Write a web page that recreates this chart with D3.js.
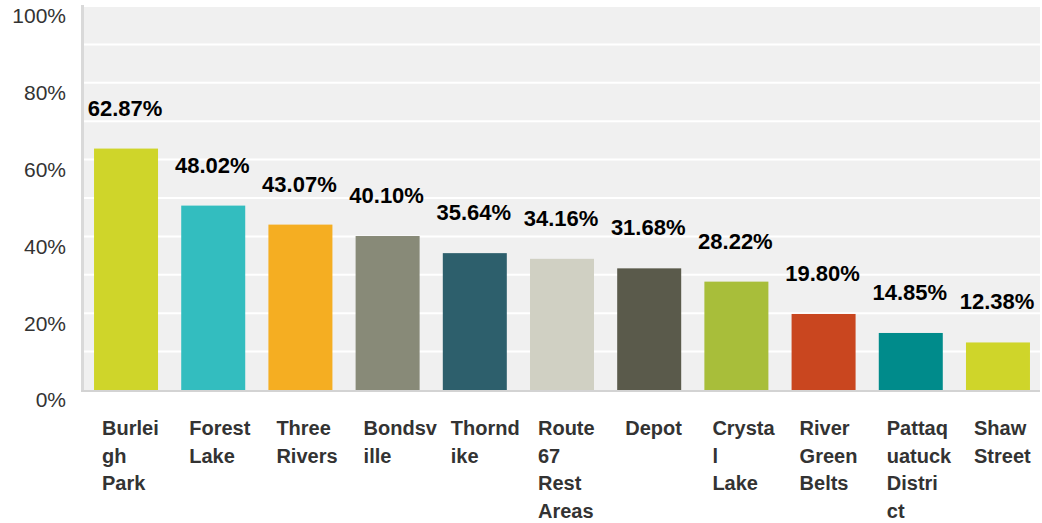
<!DOCTYPE html>
<html><head><meta charset="utf-8">
<script src="https://cdn.jsdelivr.net/npm/d3@7"></script>
<style>
body{margin:0;background:#fff;}
svg{display:block;font-family:"Liberation Sans",Arial,sans-serif;}
</style></head>
<body>
<svg id="chart" width="1042" height="523"></svg>
<script>
const categories = ["Burleigh Park","Forest Lake","Three Rivers","Bondsville","Thorndike","Route 67 Rest Areas","Depot","Crystal Lake","River Green Belts","Pattaquatuck District","Shaw Street"];
const categoryLines = [["Burlei","gh","Park"],["Forest","Lake"],["Three","Rivers"],["Bondsv","ille"],["Thornd","ike"],["Route","67","Rest","Areas"],["Depot"],["Crysta","l","Lake"],["River","Green","Belts"],["Pattaq","uatuck","Distri","ct"],["Shaw","Street"]];
const values = [62.87,48.02,43.07,40.10,35.64,34.16,31.68,28.22,19.80,14.85,12.38];
const colors = ["#cfd52a","#33bdbf","#f5ae22","#888a78","#2d5f6c","#d0d0c3","#5a5a4b","#a8be3a","#c9461f","#008b8b","#cfd52a"];
const yTicks = [0,20,40,60,80,100];

const svg = d3.select("#chart");
const L = 84, R = 1040, T = 6, B = 390;

const x = d3.scaleBand().domain(categories).range([L, R]).paddingInner(0.266).paddingOuter(0.115);
const y = d3.scaleLinear().domain([0,100]).range([B, T]);

// background
svg.append("rect").attr("x", L).attr("y", T - 1).attr("width", R - L).attr("height", B - T + 1).attr("fill", "#f0f0f0");

// gridlines
svg.append("g").selectAll("line").data(y.ticks(10).filter(d => d > 0)).join("line")
  .attr("x1", L).attr("x2", R).attr("y1", d => y(d)).attr("y2", d => y(d))
  .attr("stroke", "#ffffff").attr("stroke-width", 2);

// left axis line
svg.append("rect").attr("x", 81).attr("y", T - 1).attr("width", 3).attr("height", B - T + 3).attr("fill", "#d9d9d9");
// bottom axis line
svg.append("rect").attr("x", 81).attr("y", B).attr("width", R - 81).attr("height", 2).attr("fill", "#d3d3d3");

// y axis labels
const yAxis = svg.append("g").attr("transform", `translate(${L - 18},0)`)
  .call(d3.axisLeft(y).tickValues(yTicks).tickSize(0).tickFormat(d => d + "%"));
yAxis.select(".domain").remove();
yAxis.selectAll("text").attr("dy", "0.8em").attr("font-size", 21)
  .attr("font-family", "Liberation Sans, Arial, sans-serif").attr("fill", "#333333").attr("x", 0);

// bars
svg.append("g").selectAll("rect").data(values).join("rect")
  .attr("x", (d, i) => x(categories[i]))
  .attr("y", d => y(d))
  .attr("width", x.bandwidth())
  .attr("height", d => B - y(d))
  .attr("fill", (d, i) => colors[i]);

// value labels
svg.append("g").selectAll("text").data(values).join("text")
  .attr("x", (d, i) => x(categories[i]) + x.bandwidth() / 2 - 1)
  .attr("y", d => y(d) - 33)
  .attr("text-anchor", "middle")
  .attr("font-size", 22).attr("font-weight", "bold").attr("fill", "#000")
  .text(d => d.toFixed(2) + "%");

// category labels
const cat = svg.append("g").selectAll("text").data(categories).join("text")
  .attr("x", d => x(d) + 8)
  .attr("y", 435)
  .attr("font-size", 20).attr("font-weight", "bold").attr("fill", "#333333");
cat.each(function(d, i) {
  d3.select(this).selectAll("tspan").data(categoryLines[i]).join("tspan")
    .attr("x", x(d) + 8)
    .attr("dy", (t, j) => j === 0 ? 0 : 27.5)
    .text(t => t);
});
</script>
</body></html>
